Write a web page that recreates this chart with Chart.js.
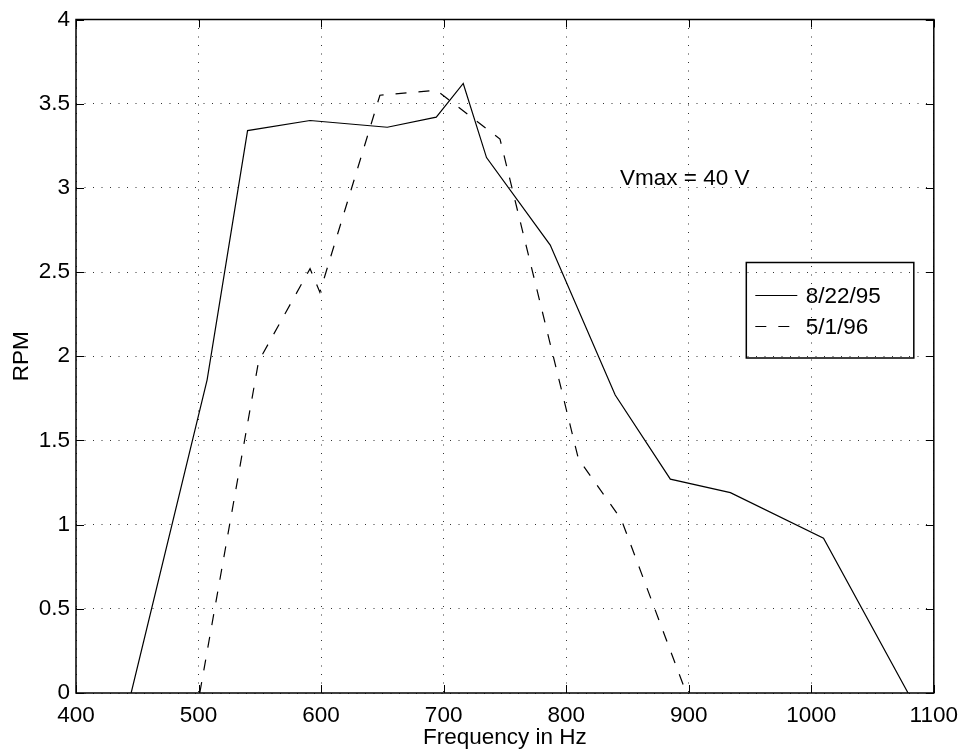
<!DOCTYPE html>
<html>
<head>
<meta charset="utf-8">
<script src="https://cdn.jsdelivr.net/npm/chart.js@4.4.1/dist/chart.umd.min.js"></script>
<style>
  html, body { margin: 0; padding: 0; background: #fff; }
  #wrap { width: 967px; height: 755px; position: relative; }
</style>
</head>
<body>
<div id="wrap"><canvas id="c" width="967" height="755"></canvas></div>
<script>
// ---- data ----
const freqA = [445, 507, 540, 591, 654, 694, 716, 735, 787, 840, 885, 934, 1010, 1079];
const rpmA  = [0, 1.86, 3.34, 3.40, 3.36, 3.42, 3.62, 3.18, 2.66, 1.77, 1.27, 1.19, 0.92, 0];
const freqB = [501, 549, 591, 599, 648, 694, 746, 810, 845, 898];
const rpmB  = [0, 1.97, 2.52, 2.38, 3.55, 3.58, 3.29, 1.39, 1.03, 0];
const labelA = '8/22/95';
const labelB = '5/1/96';
const xTicks = [400, 500, 600, 700, 800, 900, 1000, 1100];
const yTicks = [0, 0.5, 1, 1.5, 2, 2.5, 3, 3.5, 4];
const xTitle = 'Frequency in Hz';
const yTitle = 'RPM';
const annotationText = 'Vmax = 40 V';
const annotationPos = { x: 844, y: 3.02 };

const FONT = "'Liberation Sans', Arial, Helvetica, sans-serif";
const FS = 22.5;

const toPts = (xs, ys) => xs.map((x, i) => ({ x: x, y: ys[i] }));

const boxPlugin = {
  id: 'matlabBox',
  afterDraw(chart) {
    const ctx = chart.ctx;
    const a = chart.chartArea;
    const xs = chart.scales.x, ys = chart.scales.y;
    ctx.save();
    // box
    ctx.strokeStyle = '#000';
    ctx.lineWidth = 1.5;
    ctx.strokeRect(a.left, a.top, a.right - a.left, a.bottom - a.top);
    // inward ticks
    ctx.lineWidth = 1;
    const TL = 8;
    ctx.beginPath();
    xTicks.forEach(v => {
      const p = Math.round(xs.getPixelForValue(v)) + 0.5;
      ctx.moveTo(p, a.bottom); ctx.lineTo(p, a.bottom - TL);
      ctx.moveTo(p, a.top); ctx.lineTo(p, a.top + TL);
    });
    yTicks.forEach(v => {
      const p = Math.round(ys.getPixelForValue(v)) + 0.5;
      ctx.moveTo(a.left, p); ctx.lineTo(a.left + TL, p);
      ctx.moveTo(a.right, p); ctx.lineTo(a.right - TL, p);
    });
    ctx.stroke();

    // annotation text
    ctx.fillStyle = '#000';
    ctx.font = FS + 'px ' + FONT;
    ctx.textAlign = 'left';
    ctx.textBaseline = 'alphabetic';
    ctx.fillText(annotationText, xs.getPixelForValue(annotationPos.x), ys.getPixelForValue(annotationPos.y));

    // legend box (inside the axes, transparent)
    const lx = a.right - 187.5, ly = a.top + 243, lw = 167.5, lh = 95.5;
    ctx.lineWidth = 1.5;
    ctx.strokeRect(lx, ly, lw, lh);
    const ds = chart.data.datasets;
    const rows = [ly + 33, ly + 64];
    ds.forEach((d, i) => {
      const y = rows[i];
      ctx.beginPath();
      ctx.lineWidth = 1.2;
      ctx.setLineDash(d.borderDash || []);
      ctx.moveTo(lx + 9, y);
      ctx.lineTo(lx + 51, y);
      ctx.stroke();
      ctx.setLineDash([]);
      ctx.fillText(d.label, lx + 59.5, y + 7.5);
    });
    ctx.restore();
  }
};

new Chart(document.getElementById('c'), {
  type: 'line',
  data: {
    datasets: [
      { label: labelA, data: toPts(freqA, rpmA), borderColor: '#000', borderWidth: 1.2,
        pointRadius: 0, tension: 0, fill: false },
      { label: labelB, data: toPts(freqB, rpmB), borderColor: '#000', borderWidth: 1.2,
        borderDash: [11, 12], pointRadius: 0, tension: 0, fill: false }
    ]
  },
  options: {
    responsive: false,
    animation: false,
    devicePixelRatio: 1,
    layout: { padding: { top: 16, right: 32, left: 0, bottom: 0 } },
    plugins: { legend: { display: false }, tooltip: { enabled: false } },
    scales: {
      x: {
        type: 'linear', min: 400, max: 1100,
        afterBuildTicks: s => { s.ticks = xTicks.map(v => ({ value: v })); },
        afterFit: s => { s.height = 62; },
        grid: { color: 'rgba(0,0,0,0.8)', lineWidth: 1, drawTicks: false },
        border: { display: false, dash: [1, 7.5] },
        ticks: { color: '#000', font: { family: FONT, size: FS }, padding: 9, maxRotation: 0,
                 autoSkip: false, callback: v => String(v) },
        title: { display: true, text: xTitle, color: '#000', font: { family: FONT, size: FS },
                 padding: { top: 0, bottom: 4 } }
      },
      y: {
        type: 'linear', min: 0, max: 4,
        afterBuildTicks: s => { s.ticks = yTicks.map(v => ({ value: v })); },
        afterFit: s => { s.width = 76; },
        grid: { color: 'rgba(0,0,0,0.8)', lineWidth: 1, drawTicks: false },
        border: { display: false, dash: [1, 7.5] },
        ticks: { color: '#000', font: { family: FONT, size: FS }, padding: 6,
                 autoSkip: false, callback: v => String(v) },
        title: { display: true, text: yTitle, color: '#000', font: { family: FONT, size: FS },
                 padding: { top: 8, bottom: 0 } }
      }
    }
  },
  plugins: [boxPlugin]
});
</script>
</body>
</html>
